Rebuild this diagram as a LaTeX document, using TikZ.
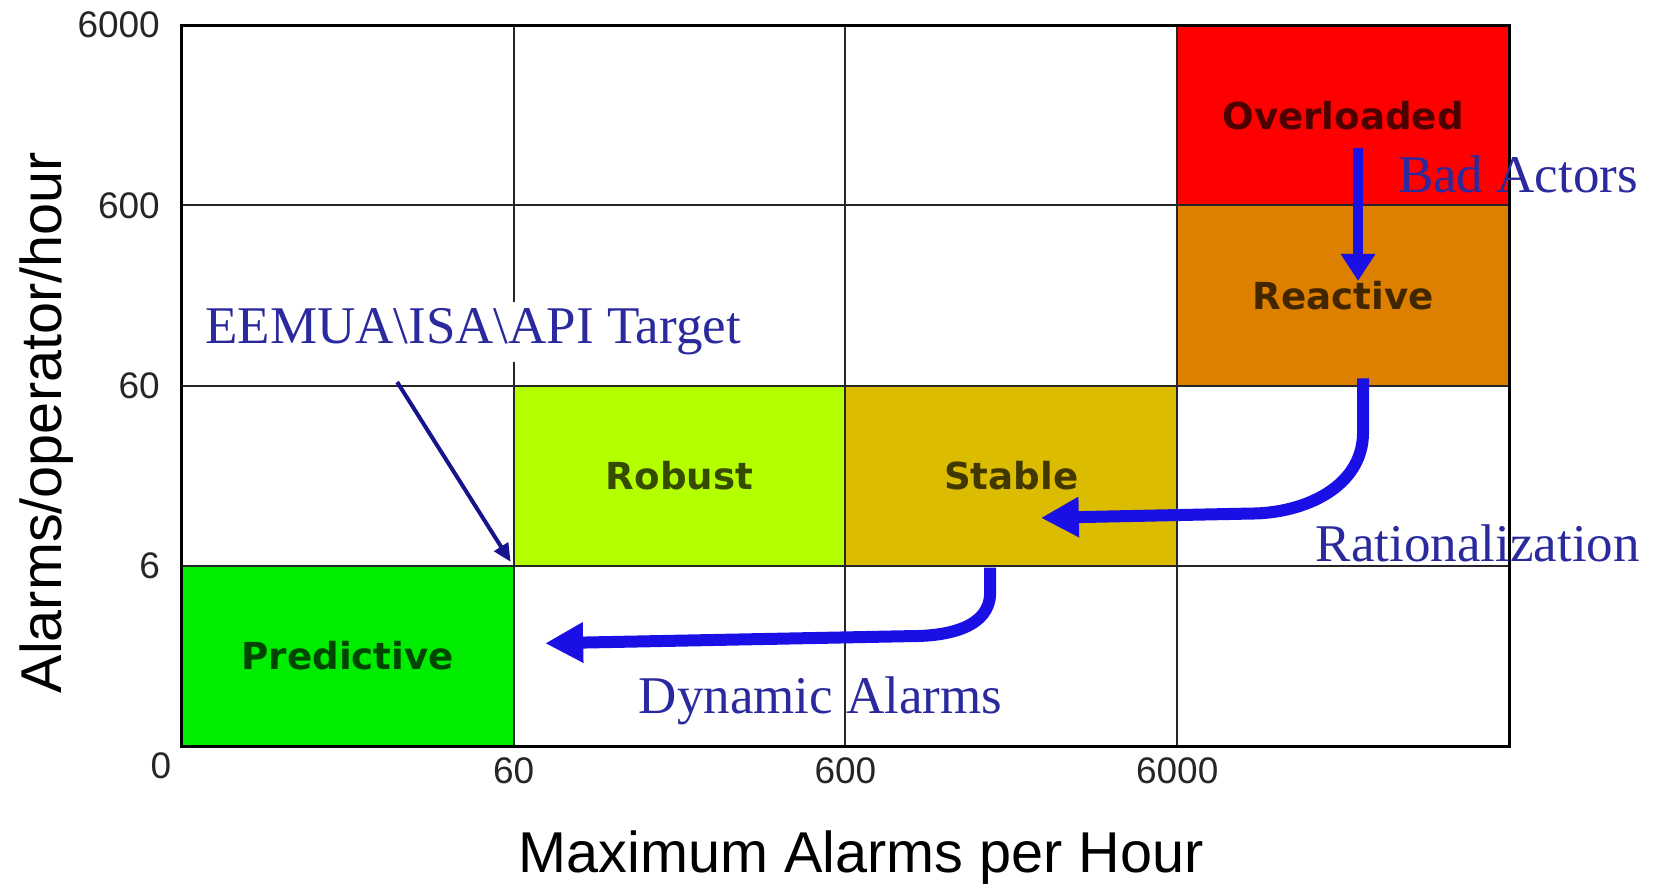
\documentclass[tikz,border=0pt]{standalone}
\usepackage{fontspec}
\usetikzlibrary{arrows.meta}
\newfontfamily\axisfont{Liberation Sans}
\newfontfamily\zonefont{DejaVu Sans}
\newfontfamily\notefont{Liberation Serif}
\definecolor{overload}{RGB}{255,0,0}
\definecolor{reactive}{RGB}{221,128,0}
\definecolor{robust}{RGB}{180,255,0}
\definecolor{stable}{RGB}{220,188,0}
\definecolor{predictive}{RGB}{0,236,0}
\definecolor{flowblue}{RGB}{26,16,230}
\definecolor{noteblue}{RGB}{42,42,158}
\definecolor{pointblue}{RGB}{20,20,140}

\begin{document}
\begin{tikzpicture}[x=165.9pt, y=90.1pt,
  zone/.style={font=\zonefont\bfseries\fontsize{18.6}{22}\selectfont, text opacity=0.7},
  note/.style={font=\notefont\fontsize{26.5}{30}\selectfont, text=noteblue, anchor=base},
  tick/.style={font=\axisfont\fontsize{18.5}{22}\selectfont, text=black!85},
  axis/.style={font=\axisfont\fontsize{28.8}{34}\selectfont, anchor=base},
  flow/.style={draw=flowblue, line width=6pt, -{Triangle[length=19pt, width=19pt]}}]
	\useasboundingbox (-0.548,-0.765) rectangle (4.446,4.140);
	% coloured zones
	\fill[overload] (3,3) rectangle (4,4);
	\fill[reactive] (3,2) rectangle (4,3);
	\fill[robust] (1,1) rectangle (2,2);
	\fill[stable] (2,1) rectangle (3,2);
	\fill[predictive] (0,0) rectangle (1,1);
	\draw[black!85, line width=1pt, step=1] (0,0) grid (4,4);
	\draw[black, line width=1.5pt] (0,0) rectangle (4,4);
	% ticks
	\foreach \v [count=\i] in {6,60,600,6000}
		\node[tick, anchor=east] (ytick\i) at (-0.045,\i) {\v};
	\foreach \v [count=\i] in {60,600,6000}
		\node[tick] (xtick\i) at (\i,-0.138) {\v};
	\node[tick] (origin) at (-0.063,-0.11) {0};
	\node[axis] (xlabel) at (2.047,-0.70) {Maximum Alarms per Hour};
	\node[axis, rotate=90] (ylabel) at (-0.363,1.794) {Alarms/operator/hour};
	% zone names
	\node[zone] (overloaded) at (3.5,3.5) {Overloaded};
	\node[zone] (reactiveN) at (3.5,2.5) {Reactive};
	\node[zone] (robustN) at (1.5,1.5) {Robust};
	\node[zone] (stableN) at (2.5,1.5) {Stable};
	\node[zone] (predictiveN) at (0.5,0.5) {Predictive};
	% notes
	\node[note, fill=white, inner xsep=4pt] (target) at (0.878,2.234) {EEMUA\textbackslash ISA\textbackslash API Target};
	\node[note] (badactors) at (4.027,3.069) {Bad Actors};
	\node[note] (rational) at (3.906,1.022) {Rationalization};
	\node[note] (dynamic) at (1.925,0.181) {Dynamic Alarms};
	% arrows
	\coordinate (bad-a) at (3.545,3.319);
	\coordinate (bad-b) at (3.545,2.581);
	\coordinate (rat-a) at (3.56,2.04);
	\coordinate (rat-b) at (2.589,1.266);
	\coordinate (dyn-a) at (2.436,0.99);
	\coordinate (dyn-b) at (1.095,0.57);
	\coordinate (goal) at (0.991,1.022);
	\draw[draw=flowblue, line width=5pt, -{Triangle[length=13.5pt, width=16.5pt]}] (bad-a) -- (bad-b);
	\draw[flow] (rat-a) -- (3.56,1.74) to[out=-90, in=0] (3.22,1.29) -- (rat-b);
	\draw[flow] (dyn-a) -- (2.436,0.85) to[out=-90, in=0] (2.20,0.61) -- (dyn-b);
	\draw[draw=pointblue, line width=2pt, -{Triangle[length=9pt, width=8pt]}] (0.649,2.02) -- (goal);
\end{tikzpicture}
\end{document}
